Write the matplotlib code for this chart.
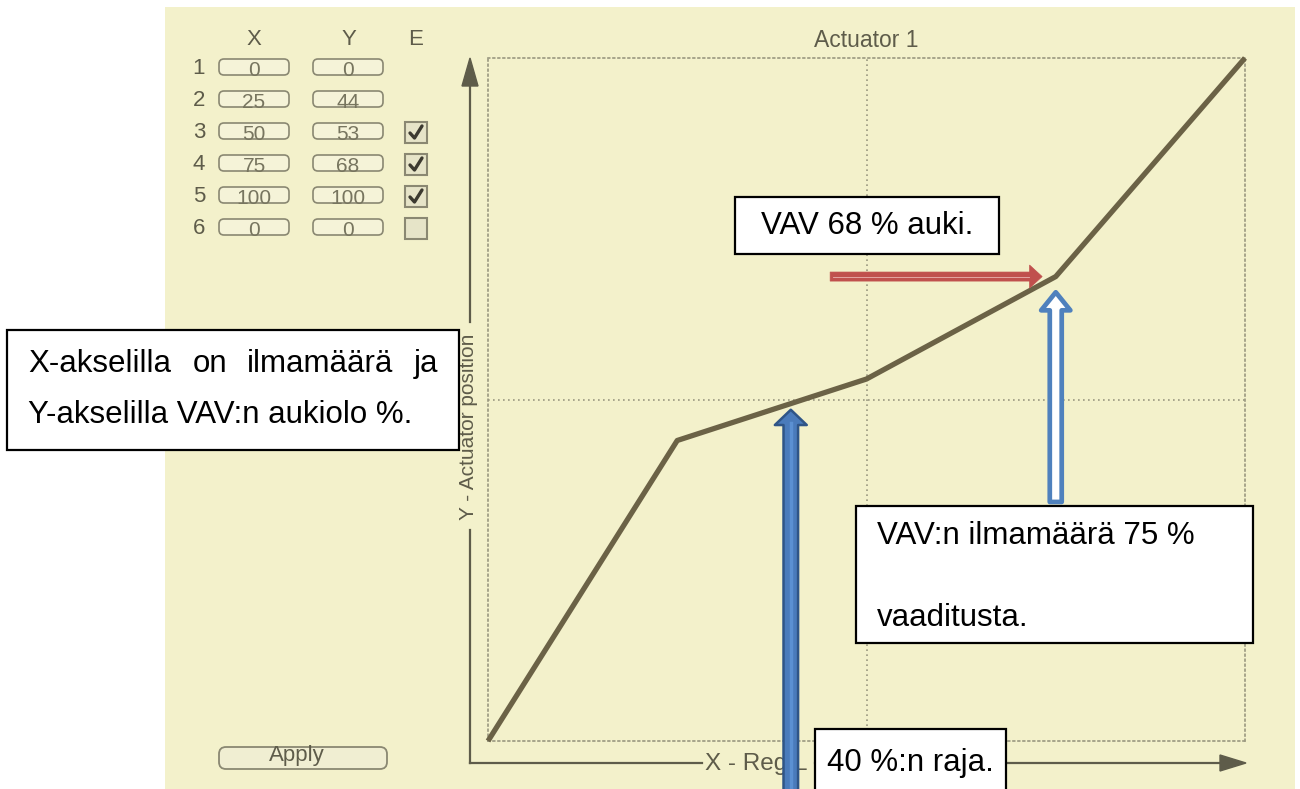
import numpy as np
import matplotlib.pyplot as plt
from matplotlib.patches import Rectangle, FancyBboxPatch, Polygon

W, H = 1300, 789

# table values of the actuator curve
ROWS = [1, 2, 3, 4, 5, 6]
X_VALS = [0, 25, 50, 75, 100, 0]
Y_VALS = [0, 44, 53, 68, 100, 0]
ENABLED = [None, None, True, True, True, False]
N_USED = 5
curve_x = X_VALS[:N_USED]
curve_y = Y_VALS[:N_USED]

LIMIT_X = 40      # 40 %:n raja
TARGET = 3        # point (75, 68)

BG = '#f3f1cb'
UI = '#5e5c4a'
CURVE = '#6b6246'
GRID = '#9a9880'
BOXFONT = 'Liberation Sans'

fig = plt.figure(figsize=(W / 100, H / 100), dpi=100)
fig.patch.set_facecolor('white')

# ── background "screenshot" in pixel coords ────────────────────────────────
bg = fig.add_axes([0, 0, 1, 1])
bg.set_xlim(0, W); bg.set_ylim(H, 0); bg.axis('off')
bg.add_patch(Rectangle((165, 7), 1130, H - 7, fc=BG, ec='none'))

# table
for lab, x in (('X', 254), ('Y', 349), ('E', 416)):
    bg.text(x, 39, lab, ha='center', va='center', fontsize=16, color=UI, family=BOXFONT)
for i, r in enumerate(ROWS):
    y = 68 + i * 32
    bg.text(199, y, str(r), ha='center', va='center', fontsize=16, color=UI, family=BOXFONT)
    for x0, val in ((219, X_VALS[i]), (313, Y_VALS[i])):
        bg.add_patch(FancyBboxPatch((x0, y - 9), 70, 16, boxstyle='round,pad=0,rounding_size=5',
                                    fc='#f5f3d8', ec='#8a8872', lw=1.2))
        bg.text(x0 + 35, y + 2, str(val), ha='center', va='center', fontsize=15,
                color='#77755f', family=BOXFONT)
    if ENABLED[i] is not None:
        bg.add_patch(Rectangle((405, y - 10), 22, 21, fc='#e6e4c8', ec='#8a8872', lw=1.5))
        if ENABLED[i]:
            bg.plot([410, 414.5, 422], [y + 1, y + 6, y - 6], color='#3c3a30', lw=2.4,
                    solid_capstyle='round')

# apply button
bg.add_patch(FancyBboxPatch((219, 747), 168, 22, boxstyle='round,pad=0,rounding_size=7',
                            fc='#f0eed2', ec='#8a8872', lw=1.3))
bg.text(297, 756, 'Apply', ha='center', va='center', fontsize=16, color=UI, family=BOXFONT)

# axes arrows
bg.plot([470, 470], [763, 530], color=UI, lw=1.6)
bg.plot([470, 470], [322, 80], color=UI, lw=1.6)
bg.add_patch(Polygon([[462, 86], [478, 86], [470, 58]], closed=True, fc=UI, ec=UI))
bg.plot([470, 702], [763, 763], color=UI, lw=1.6)
bg.plot([815, 1222], [763, 763], color=UI, lw=1.6)
bg.add_patch(Polygon([[1220, 755], [1220, 771], [1246, 763]], closed=True, fc=UI, ec=UI))
bg.text(469, 427, 'Y - Actuator position', rotation=90, ha='center', va='center',
        fontsize=15, color=UI, family=BOXFONT)
bg.text(705, 764, 'X - Reg L', ha='left', va='center', fontsize=17.5, color=UI, family=BOXFONT)
bg.text(866, 40, 'Actuator 1', ha='center', va='center', fontsize=16.5, color=UI, family=BOXFONT)

# ── chart area ─────────────────────────────────────────────────────────────
ax = fig.add_axes([488 / W, (H - 741) / H, (1245 - 488) / W, (741 - 58) / H])
ax.set_xlim(0, 100); ax.set_ylim(0, 100)
ax.set_facecolor('none')
ax.set_xticks([]); ax.set_yticks([])
for sp in ax.spines.values():
    sp.set_linestyle((0, (1, 2))); sp.set_color(GRID); sp.set_linewidth(1.2)
ax.axvline(50, color=GRID, lw=1.2, ls=(0, (1, 2)))
ax.axhline(50, color=GRID, lw=1.2, ls=(0, (1, 2)))
ax.plot(curve_x, curve_y, color=CURVE, lw=3.8, solid_joinstyle='round',
        solid_capstyle='butt', clip_on=False, zorder=3)

tx, ty = X_VALS[TARGET], Y_VALS[TARGET]
# red arrow -> 68 %
ax.annotate('', xy=(tx - 1.8, ty), xytext=(45.2, ty), annotation_clip=False,
            arrowprops=dict(arrowstyle='simple,head_length=0.9,head_width=1.65,tail_width=0.65',
                            fc='#c0504d', ec='#c0504d', lw=0.5, shrinkA=0, shrinkB=0))
ax.plot([45.6, tx - 3.5], [ty, ty], color='#e9b3b0', lw=0.6, zorder=4)
# hollow blue arrow up at 75 %
ax.annotate('', xy=(tx, ty - 2.3), xytext=(tx, 35.0), annotation_clip=False,
            arrowprops=dict(arrowstyle='simple,head_length=1.3,head_width=2.1,tail_width=0.86',
                            fc='white', ec='#4f81bd', lw=3.4, shrinkA=0, shrinkB=0))
# dark blue arrow up at 40 %
ax.annotate('', xy=(LIMIT_X, 48.5), xytext=(LIMIT_X, -8), annotation_clip=False,
            arrowprops=dict(arrowstyle='simple,head_length=1.1,head_width=2.3,tail_width=1.05',
                            fc='#4a7bbb', ec='#2f5587', lw=1.8, shrinkA=0, shrinkB=0))
ax.plot([LIMIT_X, LIMIT_X], [-8, 46.5], color='#5b90d2', lw=2.5, clip_on=False, zorder=4)

# ── text boxes on top ──────────────────────────────────────────────────────
top = fig.add_axes([0, 0, 1, 1])
top.set_xlim(0, W); top.set_ylim(H, 0); top.axis('off')
top.patch.set_alpha(0)

def box(x0, y0, x1, y1):
    top.add_patch(Rectangle((x0, y0), x1 - x0, y1 - y0, fc='white', ec='black', lw=1.6))

box(7, 330, 459, 450)
for word, x in (('X-akselilla', 28), ('on', 193), ('ilmamäärä', 247), ('ja', 414)):
    top.text(x, 364, word, ha='left', va='center', fontsize=22.5, family=BOXFONT)
top.text(28, 415, 'Y-akselilla VAV:n aukiolo %.', ha='left', va='center',
         fontsize=22.5, family=BOXFONT)

box(735, 197, 999, 254)
top.text(867, 226, 'VAV 68 % auki.', ha='center', va='center', fontsize=22.5, family=BOXFONT)

box(856, 506, 1253, 643)
top.text(877, 536, 'VAV:n ilmamäärä 75 %', ha='left', va='center', fontsize=22.5, family=BOXFONT)
top.text(877, 618, 'vaaditusta.', ha='left', va='center', fontsize=22.5, family=BOXFONT)

box(815, 729, 1006, 800)
top.text(910, 763, '40 %:n raja.', ha='center', va='center', fontsize=22.5, family=BOXFONT)

fig.savefig('out.png', dpi=100, facecolor='white')
